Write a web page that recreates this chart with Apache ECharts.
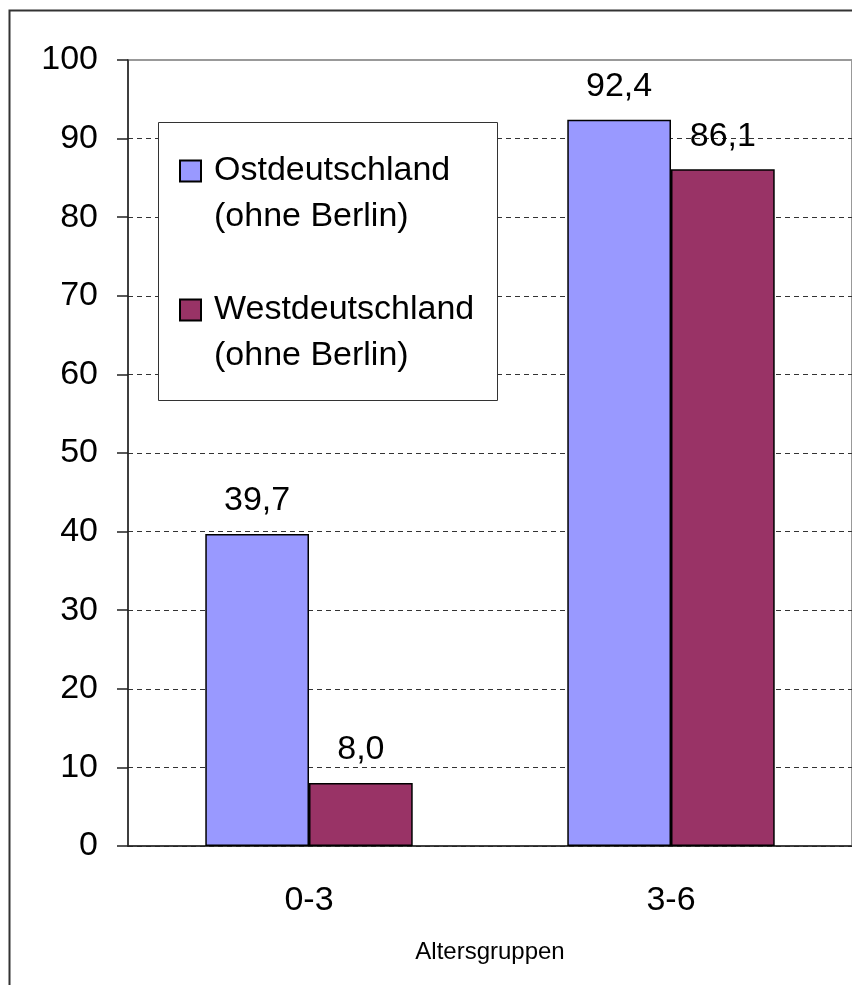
<!DOCTYPE html>
<html><head><meta charset="utf-8">
<script src="https://cdn.jsdelivr.net/npm/echarts@6/dist/echarts.min.js"></script>
<style>html,body{margin:0;padding:0;background:#fff}#c{width:852px;height:985px}</style>
</head><body><div id="c"></div>
<script>
const categories = ['0-3', '3-6'];
const seriesNames = ['Ostdeutschland\n(ohne Berlin)', 'Westdeutschland\n(ohne Berlin)'];
const ostValues = [39.7, 92.4];
const westValues = [8.0, 86.1];
const yTicks = { min: 0, max: 100, interval: 10 };
const axisName = 'Altersgruppen';

const FONT = "'Liberation Sans', Arial, Helvetica, sans-serif";
const chart = echarts.init(document.getElementById('c'));
const labelCfg = {
  show: true, position: 'top', distance: 16,
  fontFamily: FONT, fontSize: 34, color: '#000',
  formatter: p => p.value.toFixed(1).replace('.', ',')
};
const nSplit = Math.round((yTicks.max - yTicks.min) / yTicks.interval) + 1;
const splitColors = Array.from({ length: nSplit }, (_, i) => (i === nSplit - 1 ? 'rgba(0,0,0,0)' : '#333'));
chart.setOption({
  animation: false,
  backgroundColor: '#fff',
  graphic: [
    { type: 'rect', left: 7, top: 8, shape: { width: 900, height: 1000 }, style: { fill: 'none', stroke: '#333', lineWidth: 2 }, z: 100 },
    { type: 'rect', left: 158, top: 122, shape: { width: 339, height: 278 }, style: { fill: '#fff', stroke: '#333', lineWidth: 1 }, z: 4 }
  ],
  grid: { left: 128, top: 60, width: 726, height: 786, show: true, borderColor: '#999', borderWidth: 2, backgroundColor: 'transparent' },
  legend: {
    orient: 'vertical', left: 179, top: 102, itemGap: 1, z: 5, padding: 0,
    itemWidth: 21, itemHeight: 21,
    formatter: name => '\n' + name,
    textStyle: { fontFamily: FONT, fontSize: 34, color: '#000', lineHeight: 46, padding: [0, 0, 0, 8] },
    data: seriesNames.map(n => ({ name: n, icon: 'rect' }))
  },
  xAxis: {
    type: 'category', data: categories,
    axisLine: { lineStyle: { color: '#222', width: 1.5 } },
    axisTick: { length: 11, lineStyle: { color: '#222', width: 1.5 } },
    axisLabel: { fontFamily: FONT, fontSize: 34, color: '#000', margin: 38 },
    name: axisName, nameLocation: 'middle', nameGap: 94,
    nameTextStyle: { fontFamily: FONT, fontSize: 24, color: '#000' }
  },
  yAxis: {
    type: 'value', min: yTicks.min, max: yTicks.max, interval: yTicks.interval,
    axisLine: { show: true, lineStyle: { color: '#222', width: 1.5 } },
    axisTick: { show: true, length: 11, lineStyle: { color: '#222', width: 1.5 } },
    axisLabel: { fontFamily: FONT, fontSize: 34, color: '#000', margin: 30 },
    splitLine: { show: true, lineStyle: { color: splitColors, width: 1, type: [5, 4] } }
  },
  series: [
    { name: seriesNames[0], type: 'bar', data: ostValues, barGap: '0%', barCategoryGap: '42.7%',
      itemStyle: { color: '#9999FF', borderColor: '#000', borderWidth: 1.5 }, label: labelCfg },
    { name: seriesNames[1], type: 'bar', data: westValues, barGap: '0%', barCategoryGap: '42.7%',
      itemStyle: { color: '#993366', borderColor: '#000', borderWidth: 1.5 }, label: labelCfg }
  ]
});
</script></body></html>
